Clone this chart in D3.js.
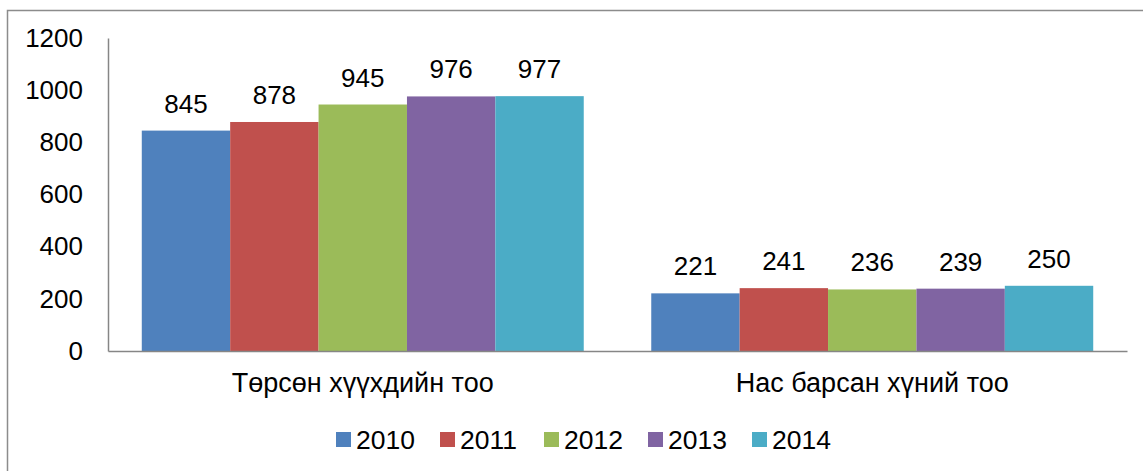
<!DOCTYPE html>
<html><head><meta charset="utf-8">
<script src="https://cdn.jsdelivr.net/npm/d3@7"></script>
<style>body{margin:0;background:#fff}svg{display:block}text{font-family:"Liberation Sans",Arial,sans-serif;fill:#000}</style>
</head><body><svg id="c" width="1143" height="471"></svg>
<script>
const categories = ["Төрсөн хүүхдийн тоо", "Нас барсан хүний тоо"];
const years = ["2010", "2011", "2012", "2013", "2014"];
const v2010 = [845, 221];
const v2011 = [878, 241];
const v2012 = [945, 236];
const v2013 = [976, 239];
const v2014 = [977, 250];
const yTicks = [0, 200, 400, 600, 800, 1000, 1200];
const colors = ["#4F81BD", "#C0504D", "#9BBB59", "#8064A2", "#4BACC6"];
const series = [v2010, v2011, v2012, v2013, v2014];

(function () {
const svg = d3.select("#c");
svg.append("rect").attr("x", 7.5).attr("y", 10.5).attr("width", 1160).attr("height", 480)
  .attr("fill", "#fff").attr("stroke", "#8c8c8c").attr("stroke-width", 1.5);

const pL = 108, pR = 1127, pT = 38, pB = 351;
const y = d3.scaleLinear().domain([0, 1200]).range([pB, pT]);
const x0 = d3.scaleBand().domain(categories).range([pL, pR]).paddingInner(0.1325).paddingOuter(0.0663);
const x1 = d3.scaleBand().domain(years).range([0, x0.bandwidth()]);

const fs = 26;
const g = svg.append("g");
categories.forEach((c, ci) => {
  years.forEach((yr, si) => {
    const val = series[si][ci];
    const bx = x0(c) + x1(yr);
    g.append("rect").attr("x", bx).attr("y", y(val)).attr("width", x1.bandwidth())
      .attr("height", y(0) - y(val)).attr("fill", colors[si]);
    g.append("text").attr("x", bx + x1.bandwidth() / 2).attr("y", y(val) - 18)
      .attr("text-anchor", "middle").attr("font-size", fs).text(val);
  });
});

const yAxis = svg.append("g").attr("transform", `translate(${pL},0)`)
  .call(d3.axisLeft(y).tickValues(yTicks).tickFormat(d3.format("d")).tickSize(0).tickPadding(25));
yAxis.select(".domain").attr("stroke", "#868686").attr("stroke-width", 1.5);
yAxis.selectAll("text").attr("font-size", fs).attr("fill", "#000");

const xAxis = svg.append("g").attr("transform", `translate(0,${pB})`)
  .call(d3.axisBottom(x0).tickSize(0).tickPadding(22));
xAxis.select(".domain").attr("stroke", "#868686").attr("stroke-width", 1.5);
xAxis.selectAll("text").attr("font-size", 27).attr("fill", "#000");

const lg = svg.append("g");
years.forEach((yr, i) => {
  const lx = 336 + i * 104;
  lg.append("rect").attr("x", lx).attr("y", 432).attr("width", 15).attr("height", 15).attr("fill", colors[i]);
  lg.append("text").attr("x", lx + 20).attr("y", 449).attr("font-size", 26.5).text(yr);
});
})();
</script></body></html>
